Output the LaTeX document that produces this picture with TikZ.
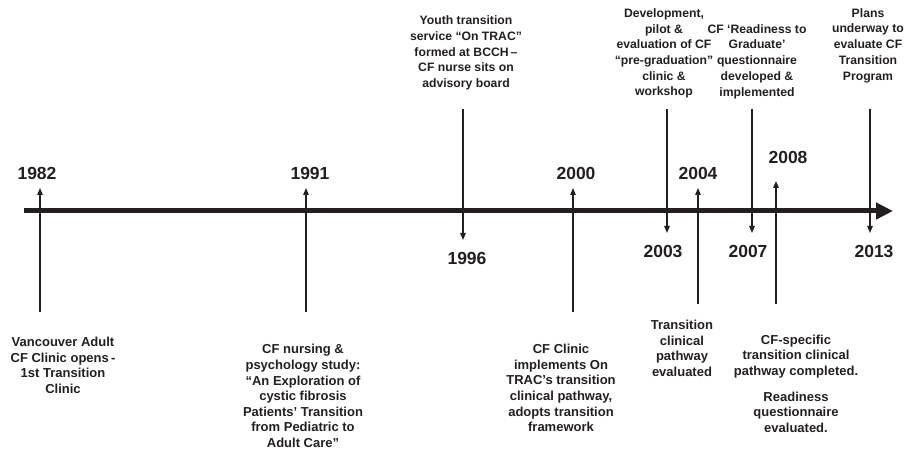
\documentclass[tikz,border=0pt]{standalone}
\usepackage{fontspec}
\setmainfont{Liberation Sans}
\usetikzlibrary{positioning, arrows.meta}
\definecolor{TintaLinea}{RGB}{35,31,32}

\begin{document}
\begin{tikzpicture}[x=1pt, y=-1pt, color=TintaLinea,
  hito/.style={align=center, inner sep=0pt, font=\fontsize{13}{15.6}\selectfont\bfseries},
  hitoarr/.style={hito, font=\fontsize{12.2}{15.7}\selectfont\bfseries},
  anio/.style={inner sep=0pt, font=\fontsize{17.5}{20}\selectfont\bfseries},
  flecha/.style={line width=1.3pt, -{Triangle[length=7pt, width=5.5pt]}},
  eje/.style={line width=5pt, -{Triangle[length=17pt, width=16pt]}}]
  \useasboundingbox (0,0) rectangle (913,454);
  % eje del tiempo
  \coordinate (ini) at (24,211);
  \coordinate (fin) at (893,211);
  \draw[eje] (ini) -- (fin);
  % anios
  \node[anio] (a82) at (37,173) {1982};
  \node[anio] (a91) at (310,173) {1991};
  \node[anio] (a96) at (467,258) {1996};
  \node[anio] (a00) at (576,173) {2000};
  \node[anio] (a03) at (663,251) {2003};
  \node[anio] (a04) at (698,173) {2004};
  \node[anio] (a07) at (748,251) {2007};
  \node[anio] (a08) at (788,157) {2008};
  \node[anio] (a13) at (874,251) {2013};
  % hitos arriba
  \node[hitoarr] (h96) at (466,53) {Youth transition\\service “On TRAC”\\formed at BCCH\,–\\CF nurse sits on\\advisory board};
  \node[hitoarr] (h03) at (664,53.5) {Development,\\pilot \&\\evaluation of CF\\“pre-graduation”\\clinic \&\\workshop};
  \node[hitoarr] (h07) at (757,61.5) {CF ‘Readiness to\\Graduate’\\questionnaire\\developed \&\\implemented};
  \node[hitoarr] (h13) at (868,45.5) {Plans\\underway to\\evaluate CF\\Transition\\Program};
  % hitos abajo
  \node[hito] (h82) at (63,365.5) {Vancouver Adult\\CF Clinic opens\,-\\1st Transition\\Clinic};
  \node[hito] (h91) at (303,396) {CF nursing \&\\psychology study:\\“An Exploration of\\cystic fibrosis\\Patients’ Transition\\from Pediatric to\\Adult Care”};
  \node[hito] (h00) at (561,388) {CF Clinic\\implements On\\TRAC’s transition\\clinical pathway,\\adopts transition\\framework};
  \node[hito] (h04) at (682,348.5) {Transition\\clinical\\pathway\\evaluated};
  \node[hito] (h08) at (796,356.5) {CF-specific\\transition clinical\\pathway completed.};
  \node[hito] (h08b) at (796,412) {Readiness\\questionnaire\\evaluated.};
  % flechas hacia arriba
  \coordinate (p82) at (40,312);  \coordinate (q82) at (40,188);
  \coordinate (p91) at (306,312); \coordinate (q91) at (306,188);
  \coordinate (p00) at (573,312); \coordinate (q00) at (573,188);
  \coordinate (p04) at (698,304); \coordinate (q04) at (698,188);
  \coordinate (p08) at (776,304); \coordinate (q08) at (776,181);
  \draw[flecha] (p82) -- (q82);
  \draw[flecha] (p91) -- (q91);
  \draw[flecha] (p00) -- (q00);
  \draw[flecha] (p04) -- (q04);
  \draw[flecha] (p08) -- (q08);
  % flechas hacia abajo
  \coordinate (p96) at (463,109); \coordinate (q96) at (463,240);
  \coordinate (p03) at (667,109); \coordinate (q03) at (667,233);
  \coordinate (p07) at (752,109); \coordinate (q07) at (752,233);
  \coordinate (p13) at (870,109); \coordinate (q13) at (870,233);
  \draw[flecha] (p96) -- (q96);
  \draw[flecha] (p03) -- (q03);
  \draw[flecha] (p07) -- (q07);
  \draw[flecha] (p13) -- (q13);
\end{tikzpicture}
\end{document}
